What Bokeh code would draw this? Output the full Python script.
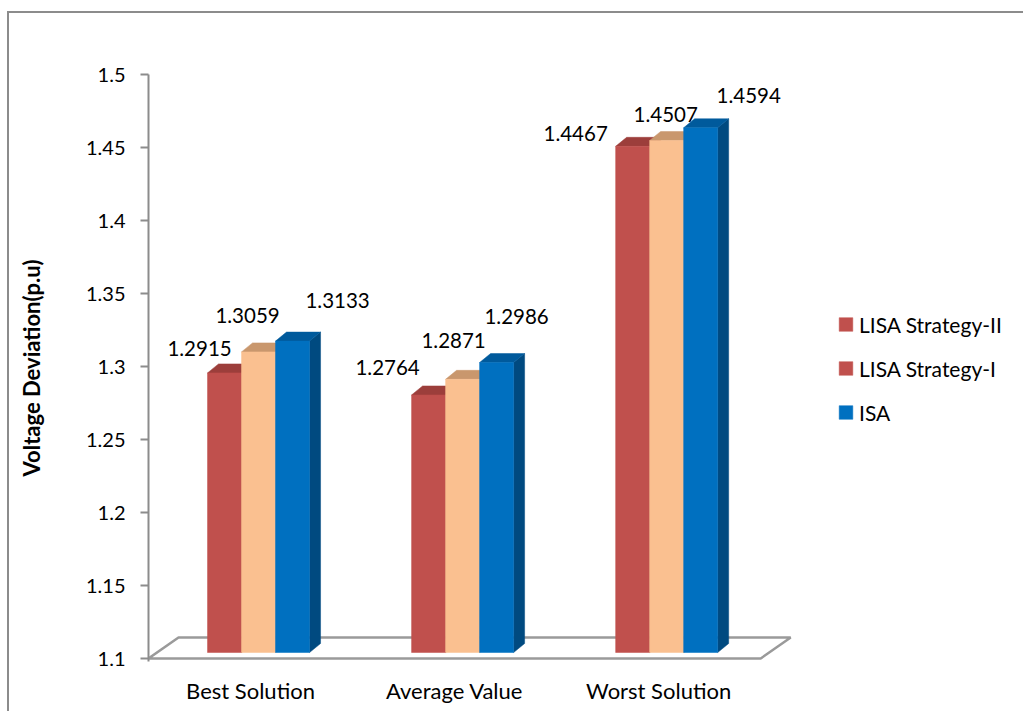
from bokeh.plotting import figure
from bokeh.models import Range1d, FixedTicker, ColumnDataSource, Legend, LegendItem
from bokeh.embed import file_html
from bokeh.resources import INLINE
from bokeh.core.properties import value

# ---------------- data ----------------
categories = ["Best Solution", "Average Value", "Worst Solution"]
series_names = ["LISA Strategy-II", "LISA Strategy-I", "ISA"]
lisa_strategy_2 = [1.2915, 1.2764, 1.4467]
lisa_strategy_1 = [1.3059, 1.2871, 1.4507]
isa = [1.3133, 1.2986, 1.4594]
y_ticks = [1.1, 1.15, 1.2, 1.25, 1.3, 1.35, 1.4, 1.45, 1.5]
y_tick_labels = ["1.1", "1.15", "1.2", "1.25", "1.3", "1.35", "1.4", "1.45", "1.5"]

# ---------------- style / layout ----------------
FONT = "Lato"
PX_X = 204.0     # pixels per category unit
PX_Y = 1460.0    # pixels per y unit
BASE = 1.1
front_colors = ["#C0504D", "#FAC090", "#0070C0"]
top_colors = ["#9C3E3B", "#C9976D", "#005A9C"]
side_colors = ["#8A3533", "#B88760", "#004A80"]
legend_colors_idx = [0, 0, 2]   # legend swatches as in the original (both LISA red)

bar_w = 34 / PX_X
group_shift = 8 / PX_X
depth_dx = 11 / PX_X
depth_dy = 9 / PX_Y
floor_dx = 30 / PX_X
floor_dy = 21 / PX_Y
bar_lift = 6 / PX_Y

# label offsets (pixels) relative to each bar's top centre
label_dx = [[-25, -41, -57], [-11, -9, -1], [45, 20, 48]]
label_dy = [[-24, -27, -13], [-36, -39, -26], [-41, -46, -32]]

y_start = BASE - 3 / PX_Y
y_end = 1.5

p = figure(
    frame_width=653, frame_height=587,
    x_range=Range1d(-0.5, 2.7), y_range=Range1d(y_start, y_end),
    output_backend="svg", toolbar_location=None,
    min_border_left=139, min_border_top=61, min_border_bottom=50, min_border_right=210,
)
p.margin = (11, 0, 0, 7)
p.extra_y_ranges = {"bars": Range1d(y_start - bar_lift, y_end - bar_lift)}
p.styles = {"border-top": "2px solid #8c8c8c", "border-left": "2px solid #8c8c8c"}

p.grid.visible = False
p.outline_line_color = None
p.background_fill_color = "white"
p.border_fill_color = "white"

# y axis
yax = p.yaxis[0]
yax.ticker = FixedTicker(ticks=y_ticks)
yax.major_label_overrides = {t: l for t, l in zip(y_ticks, y_tick_labels)}
yax.axis_line_color = "#8c8c8c"
yax.axis_line_width = 2
yax.major_tick_line_color = "#8c8c8c"
yax.major_tick_line_width = 2
yax.major_tick_out = 8
yax.major_tick_in = 0
yax.minor_tick_line_color = None
yax.major_label_standoff = 15
yax.major_label_text_font = FONT
yax.major_label_text_font_size = "20px"
yax.major_label_text_color = "#000000"
yax.axis_label = "Voltage Deviation(p.u)"
yax.axis_label_text_font = FONT
yax.axis_label_text_font_size = "22px"
yax.axis_label_text_font_style = "bold"
yax.axis_label_text_color = "#000000"
yax.axis_label_standoff = 38

# x axis
xax = p.xaxis[0]
xax.ticker = FixedTicker(ticks=list(range(len(categories))))
xax.major_label_overrides = {i: c for i, c in enumerate(categories)}
xax.axis_line_color = None
xax.major_tick_line_color = None
xax.minor_tick_line_color = None
xax.major_label_standoff = 9
xax.major_label_text_font = FONT
xax.major_label_text_font_size = "22px"
xax.major_label_text_color = "#000000"

# floor (3D base plane)
n = len(categories)
fx0, fx1 = -0.5, n - 0.5
p.patch([fx0, fx1, fx1 + floor_dx, fx0 + floor_dx],
        [BASE, BASE, BASE + floor_dy, BASE + floor_dy],
        fill_color="white", line_color="#9a9a9a", line_width=2.5)

series_vals = [lisa_strategy_2, lisa_strategy_1, isa]
front_renderers = []
for si, vals in enumerate(series_vals):
    xs = [g + group_shift + (si - 1) * bar_w for g in range(n)]
    # side faces
    side_xs = [[x + bar_w / 2, x + bar_w / 2 + depth_dx, x + bar_w / 2 + depth_dx, x + bar_w / 2] for x in xs]
    side_ys = [[BASE, BASE + depth_dy, v + depth_dy, v] for v in vals]
    p.patches(side_xs, side_ys, fill_color=side_colors[si], line_color=side_colors[si],
              line_width=0.5, y_range_name="bars")
    # top faces
    top_xs = [[x - bar_w / 2, x + bar_w / 2, x + bar_w / 2 + depth_dx, x - bar_w / 2 + depth_dx] for x in xs]
    top_ys = [[v, v, v + depth_dy, v + depth_dy] for v in vals]
    p.patches(top_xs, top_ys, fill_color=top_colors[si], line_color=top_colors[si],
              line_width=0.5, y_range_name="bars")
    # front faces
    src = ColumnDataSource(dict(x=xs, top=vals))
    r = p.vbar(x="x", top="top", bottom=BASE, width=bar_w, source=src,
               fill_color=front_colors[si], line_color=front_colors[si], line_width=0.5,
               y_range_name="bars")
    front_renderers.append(r)

# data labels
for si, vals in enumerate(series_vals):
    xs = [g + group_shift + (si - 1) * bar_w for g in range(n)]
    lsrc = ColumnDataSource(dict(
        x=xs, y=vals, t=[f"{v:.4f}" for v in vals],
        dx=label_dx[si], dy=label_dy[si],
    ))
    p.text(x="x", y="y", text="t", x_offset="dx", y_offset="dy", source=lsrc,
           text_align="center", text_baseline="middle", text_font=value(FONT),
           text_font_size="20.5px", text_color="#000000", y_range_name="bars")

legend = Legend(
    items=[LegendItem(label=name, renderers=[front_renderers[legend_colors_idx[i]]])
           for i, name in enumerate(series_names)],
    location="center_left", orientation="vertical",
    label_text_font=FONT, label_text_font_size="21px", label_text_color="#000000",
    glyph_width=17, glyph_height=17, label_height=22, spacing=19,
    label_standoff=5, margin=36, padding=8,
    border_line_color=None, background_fill_color=None,
)
p.add_layout(legend, "right")

open("out.html", "w").write(file_html(p, INLINE))
